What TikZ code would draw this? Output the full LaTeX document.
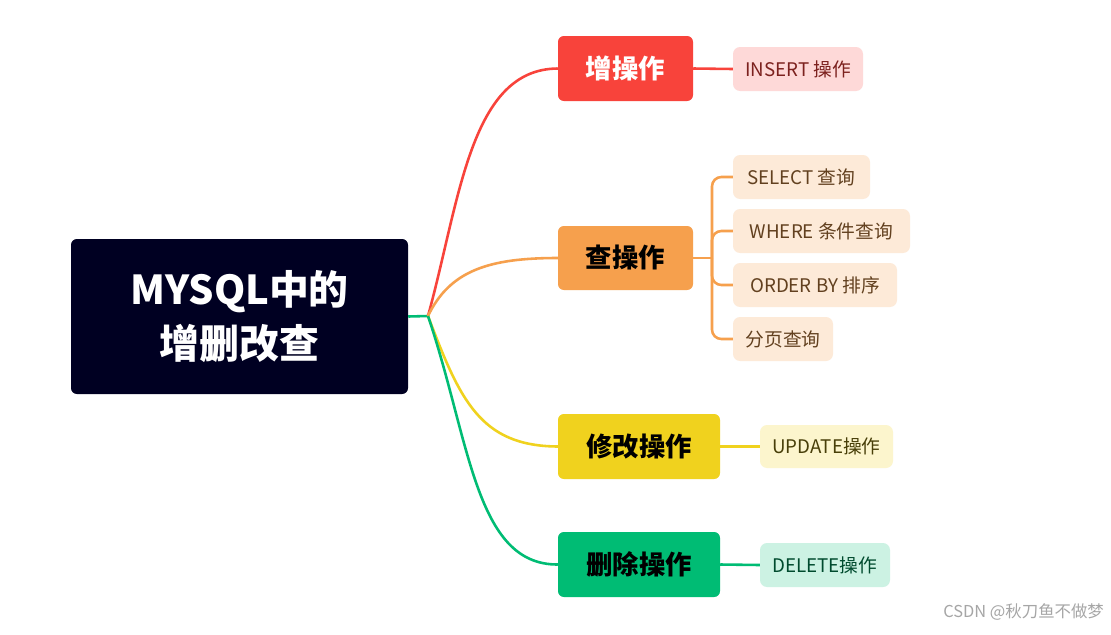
\documentclass[tikz,border=0pt]{standalone}
\usepackage{fontspec}
\setmainfont{Noto Sans CJK SC}
\begin{document}
\begin{tikzpicture}[x=0.03cm,y=-0.03cm,
  main/.style={rounded corners=5pt,inner sep=0pt,font=\fontsize{22.5}{26}\selectfont\bfseries},
  leaf/.style={rounded corners=6pt,inner sep=0pt,font=\fontsize{16}{18}\selectfont},
  conn/.style={line width=2.2pt}]
\useasboundingbox[fill=white] (0,0) rectangle (1111,634);
\definecolor{cRoot}{HTML}{000022}
\definecolor{cRed}{HTML}{F8433B}
\definecolor{cOr}{HTML}{F6A04D}
\definecolor{cYe}{HTML}{F0D21E}
\definecolor{cGr}{HTML}{00BC74}
% root
\node[main,fill=cRoot,text=white,minimum width=337*0.03cm,minimum height=155*0.03cm,align=center,font=\fontsize{34}{46}\selectfont\bfseries] (root) at (239.5,316.5) {MYSQL中的\\增删改查};
\coordinate (hub) at (428,316);
\draw[conn,cGr] (root.east) -- (hub);
% main nodes
\node[main,fill=cRed,text=white,minimum width=135*0.03cm,minimum height=65*0.03cm] (add) at (625.5,68.5) {增操作};
\node[main,fill=cOr,text=black,minimum width=135*0.03cm,minimum height=64*0.03cm] (sel) at (625.5,258) {查操作};
\node[main,fill=cYe,text=black,minimum width=162*0.03cm,minimum height=65*0.03cm] (upd) at (639,446.5) {修改操作};
\node[main,fill=cGr,text=black,minimum width=162*0.03cm,minimum height=65*0.03cm] (del) at (639,564.5) {删除操作};
% curves
\draw[conn,cRed] (hub) .. controls (460,200) and (470,69) .. (add.west);
\draw[conn,cOr] (hub) .. controls (450,270) and (490,258) .. (sel.west);
\draw[conn,cYe] (hub) .. controls (460,400) and (480,446) .. (upd.west);
\draw[conn,cGr] (hub) .. controls (470,440) and (475,565) .. (del.west);
% leaves
\node[leaf,fill=cRed!20,text=cRed!50!black,minimum width=130*0.03cm,minimum height=44*0.03cm] (l1) at (798,69) {INSERT 操作};
\node[leaf,fill=cOr!22,text=cOr!40!black,minimum width=137*0.03cm,minimum height=44*0.03cm] (s1) at (801.5,177) {SELECT 查询};
\node[leaf,fill=cOr!22,text=cOr!40!black,minimum width=177*0.03cm,minimum height=44*0.03cm] (s2) at (821.5,231) {WHERE 条件查询};
\node[leaf,fill=cOr!22,text=cOr!40!black,minimum width=164*0.03cm,minimum height=44*0.03cm] (s3) at (815,285) {ORDER BY 排序};
\node[leaf,fill=cOr!22,text=cOr!40!black,minimum width=100*0.03cm,minimum height=44*0.03cm] (s4) at (783,339) {分页查询};
\node[leaf,fill=cYe!22,text=cYe!30!black,minimum width=133*0.03cm,minimum height=43*0.03cm] (u1) at (826.5,446.5) {UPDATE操作};
\node[leaf,fill=cGr!20,text=cGr!40!black,minimum width=130*0.03cm,minimum height=44*0.03cm] (d1) at (825,565) {DELETE操作};
\draw[conn,cRed] (add.east) -- (l1.west);
\draw[conn,cYe] (upd.east) -- (u1.west);
\draw[conn,cGr] (del.east) -- (d1.west);
\coordinate (br) at (712,258);
\draw[conn,cOr] (sel.east) -- (br);
\draw[conn,cOr,rounded corners=8pt] (s1.west) -| (br) |- (s4.west);
\draw[conn,cOr,rounded corners=8pt] (br) |- (s2.west);
\draw[conn,cOr,rounded corners=8pt] (br) |- (s3.west);
\node[text=gray!70,font=\fontsize{14}{16}\selectfont,anchor=east] (wm) at (1108,612) {CSDN @秋刀鱼不做梦};
\end{tikzpicture}
\end{document}
